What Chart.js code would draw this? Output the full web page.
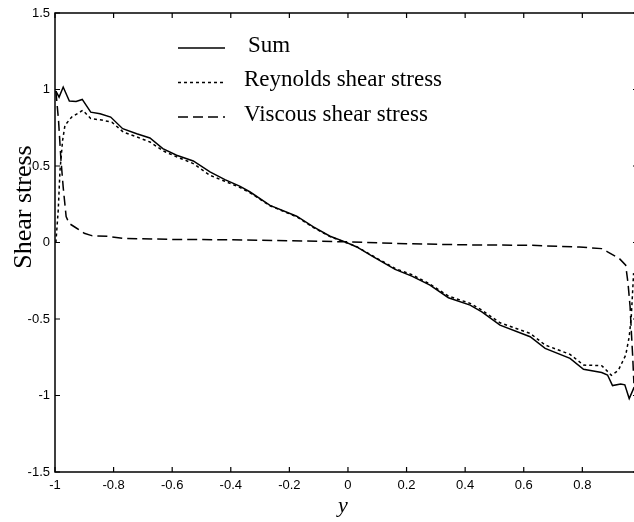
<!DOCTYPE html>
<html>
<head>
<meta charset="utf-8">
<script src="https://cdn.jsdelivr.net/npm/chart.js@4/dist/chart.umd.min.js"></script>
<style>
  html, body { margin: 0; padding: 0; background: #fff; overflow: hidden; }
  #wrap { width: 640px; height: 522px; }
</style>
</head>
<body>
<div id="wrap"><canvas id="c" width="640" height="522"></canvas></div>
<script>
// Channel-flow shear stress profiles across the wall-normal coordinate y
const sumX = [-0.997, -0.986, -0.972, -0.951, -0.928, -0.907, -0.878, -0.846, -0.810, -0.769,
              -0.721, -0.676, -0.632, -0.585, -0.528, -0.471, -0.420, -0.368, -0.334, -0.266,
              -0.175, -0.118, -0.061, -0.010, 0.030, 0.087, 0.161, 0.218, 0.280, 0.343,
              0.417, 0.457, 0.519, 0.622, 0.673, 0.758, 0.804, 0.866, 0.886, 0.903,
              0.931, 0.945, 0.960, 0.977];
const sumY = [0.99, 0.95, 1.016, 0.925, 0.922, 0.935, 0.852, 0.842, 0.82, 0.744,
              0.711, 0.683, 0.614, 0.57, 0.533, 0.461, 0.411, 0.367, 0.33, 0.243,
              0.172, 0.102, 0.041, 0.004, -0.029, -0.094, -0.176, -0.22, -0.279, -0.361,
              -0.409, -0.453, -0.54, -0.616, -0.692, -0.757, -0.829, -0.850, -0.866, -0.935,
              -0.925, -0.93, -1.02, -0.945];

const reyX = [-0.997, -0.989, -0.983, -0.974, -0.966, -0.943, -0.905, -0.878, -0.841, -0.806,
              -0.767, -0.721, -0.676, -0.630, -0.585, -0.528, -0.471, -0.420, -0.368, -0.334,
              -0.266, -0.175, -0.118, -0.061, -0.010, 0.030, 0.087, 0.161, 0.218, 0.280,
              0.343, 0.417, 0.457, 0.519, 0.622, 0.673, 0.758, 0.804, 0.866, 0.876,
              0.899, 0.923, 0.948, 0.960, 0.967, 0.975];
const reyY = [0.0, 0.21, 0.47, 0.668, 0.766, 0.82, 0.864, 0.81, 0.80, 0.787,
              0.722, 0.69, 0.657, 0.598, 0.56, 0.516, 0.439, 0.40, 0.359, 0.325,
              0.24, 0.168, 0.098, 0.038, 0.002, -0.027, -0.09, -0.17, -0.21, -0.272,
              -0.35, -0.398, -0.442, -0.525, -0.594, -0.67, -0.731, -0.801, -0.805, -0.823,
              -0.868, -0.835, -0.736, -0.616, -0.486, -0.2];

const visX = [-0.997, -0.988, -0.980, -0.972, -0.962, -0.952, -0.930, -0.900, -0.875, -0.820,
              -0.770, -0.600, -0.400, -0.200, 0.000, 0.200, 0.420, 0.620, 0.790, 0.866,
              0.886, 0.926, 0.948, 0.956, 0.963, 0.967, 0.972, 0.976];
const visY = [0.99, 0.80, 0.55, 0.36, 0.17, 0.125, 0.098, 0.06, 0.045, 0.04,
              0.027, 0.02, 0.018, 0.012, 0.004, -0.008, -0.016, -0.018, -0.03, -0.04,
              -0.061, -0.104, -0.148, -0.268, -0.42, -0.572, -0.75, -0.92];

const seriesNames = ['Sum', 'Reynolds shear stress', 'Viscous shear stress'];
const xTicks = [-1, -0.8, -0.6, -0.4, -0.2, 0, 0.2, 0.4, 0.6, 0.8];
const yTicks = [-1.5, -1, -0.5, 0, 0.5, 1, 1.5];
const xTitle = 'y';
const yTitle = 'Shear stress';

const toPoints = (xs, ys) => xs.map((x, i) => ({ x, y: ys[i] }));

// Boxed axes with inward tick marks, an in-plot legend and the axis titles
const framePlugin = {
  id: 'frame',
  afterDatasetsDraw(chart) {
    const { ctx, chartArea: a, scales: { x, y } } = chart;
    ctx.save();
    ctx.strokeStyle = '#000';
    ctx.setLineDash([]);
    ctx.lineWidth = 1.5;
    ctx.strokeRect(a.left, a.top, a.right - a.left, a.bottom - a.top);

    const tick = 5;
    ctx.lineWidth = 1.2;
    ctx.beginPath();
    xTicks.forEach(v => {
      const p = x.getPixelForValue(v);
      ctx.moveTo(p, a.bottom); ctx.lineTo(p, a.bottom - tick);
      ctx.moveTo(p, a.top); ctx.lineTo(p, a.top + tick);
    });
    yTicks.forEach(v => {
      const p = y.getPixelForValue(v);
      ctx.moveTo(a.left, p); ctx.lineTo(a.left + tick, p);
      ctx.moveTo(a.right, p); ctx.lineTo(a.right - tick, p);
    });
    ctx.stroke();

    // legend
    const rowsY = [51.5, 86, 120.5];
    ctx.font = '23px "Liberation Serif", "Times New Roman", serif';
    ctx.fillStyle = '#000';
    ctx.textAlign = 'left';
    ctx.textBaseline = 'alphabetic';
    chart.data.datasets.forEach((ds, i) => {
      const ly = rowsY[i] - 3.5;
      ctx.lineWidth = ds.borderWidth;
      ctx.setLineDash(ds.borderDash || []);
      ctx.beginPath();
      ctx.moveTo(178, ly);
      ctx.lineTo(225, ly);
      ctx.stroke();
      ctx.fillText(ds.label, i === 0 ? 248 : 244, rowsY[i]);
    });
    ctx.setLineDash([]);

    // axis titles
    ctx.font = 'italic 22px "Liberation Serif", "Times New Roman", serif';
    ctx.textAlign = 'center';
    ctx.fillText(xTitle, 343, 512);

    ctx.font = '26px "Liberation Serif", "Times New Roman", serif';
    ctx.translate(31, 207);
    ctx.rotate(-Math.PI / 2);
    ctx.fillText(yTitle, 0, 0);
    ctx.restore();
  }
};

const tickFont = { family: '"Liberation Sans", Arial, sans-serif', size: 13 };

new Chart(document.getElementById('c'), {
  type: 'line',
  data: {
    datasets: [
      { label: seriesNames[0], data: toPoints(sumX, sumY), borderColor: '#000', borderWidth: 1.5,
        pointRadius: 0, fill: false, tension: 0 },
      { label: seriesNames[1], data: toPoints(reyX, reyY), borderColor: '#000', borderWidth: 1.5,
        borderDash: [3, 3], pointRadius: 0, fill: false, tension: 0 },
      { label: seriesNames[2], data: toPoints(visX, visY), borderColor: '#000', borderWidth: 1.5,
        borderDash: [10, 5], pointRadius: 0, fill: false, tension: 0 }
    ]
  },
  options: {
    responsive: false,
    animation: false,
    devicePixelRatio: 1,
    layout: { padding: { top: 13, left: 0, right: 2, bottom: 0 } },
    plugins: { legend: { display: false }, tooltip: { enabled: false }, title: { display: false } },
    scales: {
      x: {
        type: 'linear', min: -1, max: 0.99,
        afterBuildTicks: s => { s.ticks = xTicks.map(v => ({ value: v })); },
        afterFit: s => { s.height = 50; },
        grid: { display: false, drawTicks: false },
        border: { display: false },
        ticks: { color: '#000', font: tickFont, padding: 6, maxRotation: 0, autoSkip: false,
                 callback: v => String(v) }
      },
      y: {
        type: 'linear', min: -1.5, max: 1.5,
        afterBuildTicks: s => { s.ticks = yTicks.map(v => ({ value: v })); },
        afterFit: s => { s.width = 55; },
        grid: { display: false, drawTicks: false },
        border: { display: false },
        ticks: { color: '#000', font: tickFont, padding: 5, autoSkip: false,
                 callback: v => String(v) }
      }
    }
  },
  plugins: [framePlugin]
});
</script>
</body>
</html>
